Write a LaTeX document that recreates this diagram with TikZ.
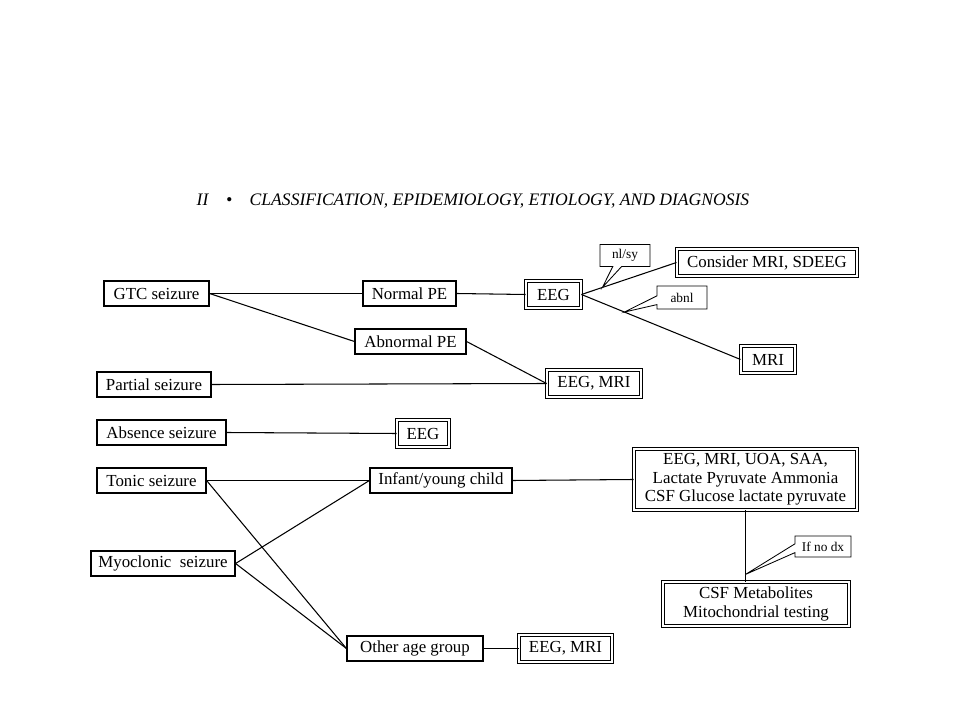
\documentclass[tikz,border=0pt]{standalone}
\usepackage{fontspec}
\setmainfont{Liberation Serif}
\usetikzlibrary{shapes.callouts}
\newcommand{\boxfont}{\fontsize{12}{13}\selectfont}
\newcommand{\notefont}{\fontsize{9.5}{11}\selectfont}
\tikzset{%
  box/.style={draw,line width=0.8pt,inner sep=2pt,align=center,
    minimum height=0.625cm,font=\boxfont},
  testbox/.style={draw,double,line width=0.65pt,double distance=1.1pt,
    inner sep=2pt,align=center,minimum height=0.675cm,font=\boxfont},
  note/.style={rectangle callout,draw,fill=white,line width=0.6pt,
    callout pointer width=0.22cm,inner sep=2pt,font=\notefont},
  link/.style={line width=0.75pt},
  heading/.style={font=\fontsize{12.5}{14}\selectfont\itshape}
}
\begin{document}
\begin{tikzpicture}[x=0.025cm,y=-0.025cm]
  \useasboundingbox[fill=white] (0,0) rectangle (960,720);
  \node[heading] (head) at (473,201)
    {II\quad\textbullet\quad CLASSIFICATION, EPIDEMIOLOGY, ETIOLOGY, AND DIAGNOSIS};

  % seizure types
  \node[box, minimum width=2.625cm] (gtc) at (156.5,293.5) {GTC seizure};
  \node[box, minimum width=2.85cm] (partial) at (154,384.5) {Partial seizure};
  \node[box, minimum width=3.225cm] (absence) at (161.5,432.5) {Absence seizure};
  \node[box, minimum width=2.725cm] (tonic) at (151.5,480.5) {Tonic seizure};
  \node[box, minimum width=3.6cm] (myo) at (163,563.5) {Myoclonic\ \ seizure};

  % middle column
  \node[box, minimum width=2.325cm] (normpe) at (409.5,293.5) {Normal PE};
  \node[box, minimum width=2.775cm] (abnpe) at (410.5,341.5) {Abnormal PE};
  \node[box, minimum width=3.55cm] (infant) at (441,480.5) {Infant/young child};
  \node[box, minimum width=3.4cm] (other) at (415,648.5) {Other age group};

  % tests
  \node[testbox, minimum width=1.375cm] (eega) at (553.5,294.5) {EEG};
  \node[testbox, minimum width=4.5cm] (sdeeg) at (767,262.5) {Consider MRI, SDEEG};
  \node[testbox, minimum width=1.35cm] (mria) at (768,359.5) {MRI};
  \node[testbox, minimum width=2.35cm] (eegmria) at (594,383.5) {EEG, MRI};
  \node[testbox, minimum width=1.3cm] (eegb) at (423,433.5) {EEG};
  \node[testbox, minimum width=5.575cm, minimum height=1.525cm, inner sep=1pt]
    (labs) at (745.5,479.5)
    {EEG, MRI, UOA, SAA,\\Lactate Pyruvate Ammonia\\CSF Glucose lactate pyruvate};
  \node[testbox, minimum width=4.65cm, minimum height=1.1cm, inner sep=1pt]
    (csf) at (756,604) {CSF Metabolites\\Mitochondrial testing};
  \node[testbox, minimum width=2.325cm] (eegmrib) at (565.5,648.5) {EEG, MRI};

  \draw[link] (gtc.east) -- (normpe.west);
  \draw[link] (gtc.east) -- (abnpe.west);
  \draw[link] (normpe.east) -- (eega.west);
  \draw[link] (eega.east) -- coordinate[pos=0.22] (nltip) (sdeeg.west);
  \draw[link] (eega.east) -- coordinate[pos=0.27] (abtip) (mria.west);
  \draw[link] (abnpe.east) -- (eegmria.west);
  \draw[link] (partial.east) -- (eegmria.west);
  \draw[link] (absence.east) -- (eegb.west);
  \draw[link] (tonic.east) -- (infant.west);
  \draw[link] (tonic.east) -- (other.west);
  \draw[link] (myo.east) -- (infant.west);
  \draw[link] (myo.east) -- (other.west);
  \draw[link] (infant.east) -- (labs.west);
  \draw[link] (labs.south) -- coordinate[pos=0.9] (dxtip) (labs.south |- csf.north);
  \draw[link] (other.east) -- (eegmrib.west);

  % callouts
  \node[note, minimum width=1.25cm, minimum height=0.55cm,
    callout absolute pointer={(nltip)}] (nlsy) at (625,255.5) {nl/sy};
  \node[note, minimum width=1.25cm, minimum height=0.575cm,
    callout absolute pointer={(abtip)}] (abnl) at (682,297.5) {abnl};
  \node[note, minimum width=1.4cm, minimum height=0.525cm,
    callout absolute pointer={(dxtip)}] (nodx) at (823,546.5) {If no dx};
\end{tikzpicture}
\end{document}
